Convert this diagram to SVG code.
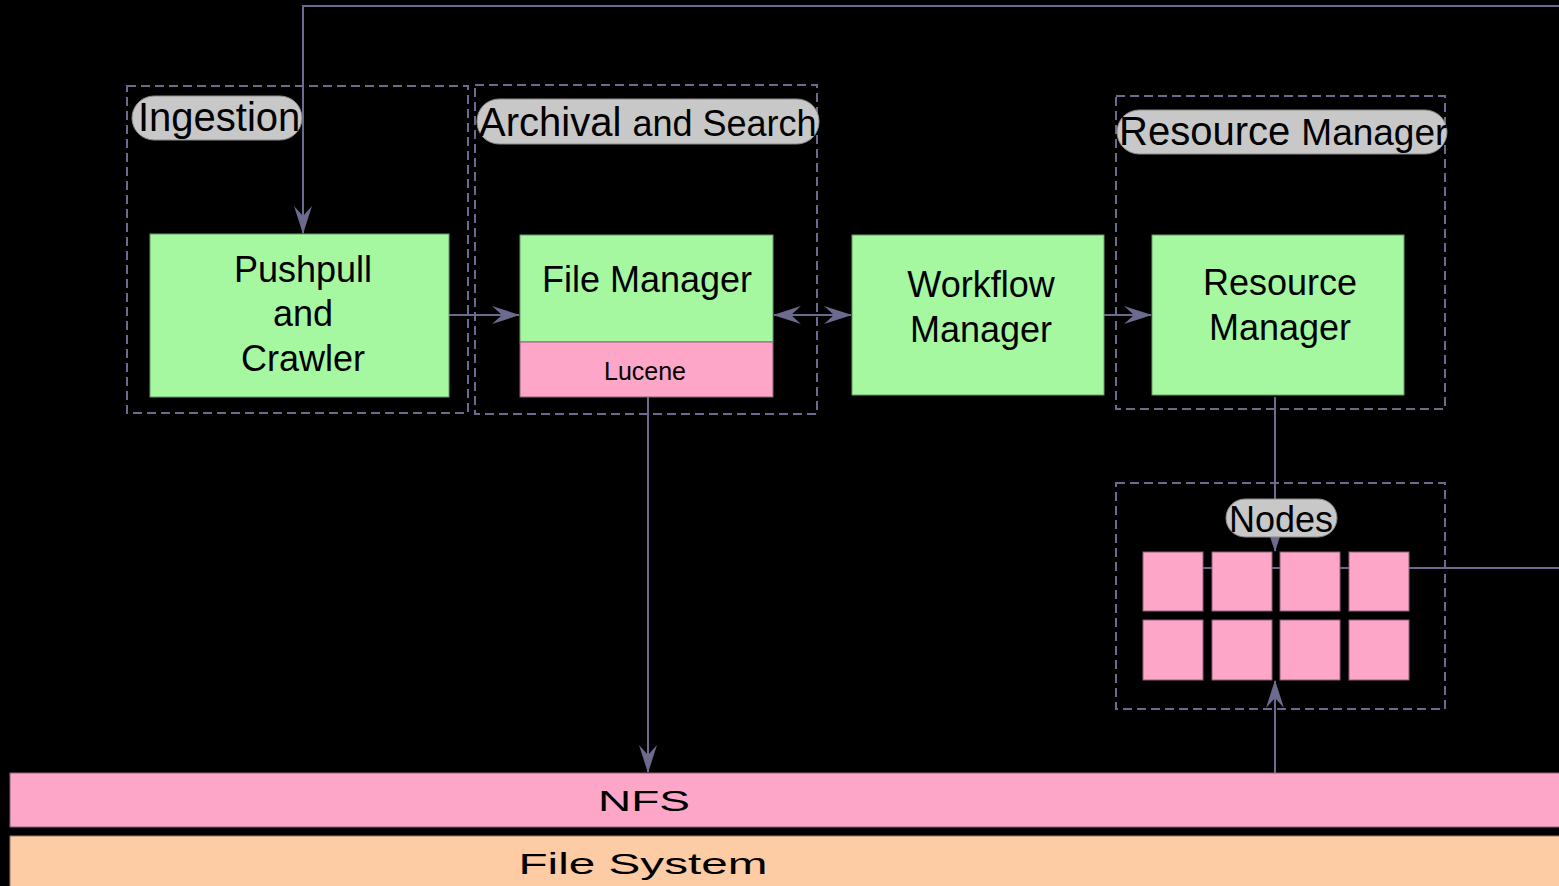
<svg xmlns="http://www.w3.org/2000/svg" width="1559" height="886" viewBox="0 0 1559 886">
<style>
.grp{fill:none;stroke:#6c6b8f;stroke-width:2;stroke-dasharray:9,5}
.pill{fill:#c8c8c8;stroke:#8a8a8a;stroke-width:1}
.green{fill:#a5f8a0;stroke:#6a9a66;stroke-width:1}
.pink{fill:#fea6c8;stroke:#8a6078;stroke-width:1}
.peach{fill:#fdcba4;stroke:#9a7a60;stroke-width:1}
.conn{fill:none;stroke:#6c6b8f;stroke-width:2}
text{font-family:"Liberation Sans",Arial,sans-serif;fill:#000;text-anchor:middle}
.lbl{font-size:40px;text-anchor:start}
.node{font-size:36px}
</style>
<defs>
<marker id="ah" viewBox="0 0 28 18" refX="27" refY="9" markerWidth="28" markerHeight="18" markerUnits="userSpaceOnUse" orient="auto-start-reverse">
<path d="M0,0 L28,9 L0,18 L10,9 Z" fill="#6c6b8f"/>
</marker>
</defs>
<rect width="1559" height="886" fill="#000"/>

<g id="connectors">
<polyline class="conn" points="1559,6 303,6 303,233" marker-end="url(#ah)"/>
<line class="conn" x1="449" y1="315" x2="519" y2="315" marker-end="url(#ah)"/>
<line class="conn" x1="774" y1="315" x2="851" y2="315" marker-start="url(#ah)" marker-end="url(#ah)"/>
<line class="conn" x1="1104" y1="315" x2="1151" y2="315" marker-end="url(#ah)"/>
<line class="conn" x1="648" y1="397" x2="648" y2="772" marker-end="url(#ah)"/>
<line class="conn" x1="1275" y1="397" x2="1275" y2="551" marker-end="url(#ah)"/>
<line class="conn" x1="1275" y1="773" x2="1275" y2="681" marker-end="url(#ah)"/>
<line class="conn" x1="1200" y1="568" x2="1559" y2="568"/>
</g>

<g id="ingestion">
<rect class="grp" x="127" y="86" width="341" height="327"/>
<rect class="pill" x="132" y="96" width="170" height="44" rx="22"/>
<text class="lbl" x="138" y="131">Ingestion</text>
</g>

<g id="archival">
<rect class="grp" x="475" y="85" width="342" height="329"/>
<rect class="pill" x="477" y="99" width="342" height="45" rx="22"/>
<text class="lbl" x="479" y="136">Archival <tspan font-size="36">and Search</tspan></text>
</g>

<g id="resource-group">
<rect class="grp" x="1116" y="96" width="329" height="313"/>
<rect class="pill" x="1117" y="110" width="330" height="44" rx="22"/>
<text class="lbl" x="1119" y="145">Resource <tspan font-size="37">Manager</tspan></text>
</g>

<g id="pushpull">
<rect class="green" x="150" y="234" width="299" height="163"/>
<text class="node" x="303" y="282">Pushpull</text>
<text class="node" x="303" y="326">and</text>
<text class="node" x="303" y="371">Crawler</text>
</g>

<g id="filemanager">
<rect class="green" x="520" y="235" width="253" height="107"/>
<text class="node" x="647" y="292">File Manager</text>
<rect class="pink" x="520" y="342" width="253" height="55"/>
<text x="645" y="380" font-size="25">Lucene</text>
</g>

<g id="workflow">
<rect class="green" x="852" y="235" width="252" height="160"/>
<text class="node" x="981" y="297">Workflow</text>
<text class="node" x="981" y="342">Manager</text>
</g>

<g id="resourcemanager">
<rect class="green" x="1152" y="235" width="252" height="160"/>
<text class="node" x="1280" y="295">Resource</text>
<text class="node" x="1280" y="340">Manager</text>
</g>

<g id="nodes">
<rect class="grp" x="1116" y="483" width="329" height="226"/>
<rect class="pink" x="1143" y="552" width="60" height="59"/>
<rect class="pink" x="1212" y="552" width="60" height="59"/>
<rect class="pink" x="1280" y="552" width="60" height="59"/>
<rect class="pink" x="1349" y="552" width="60" height="59"/>
<rect class="pink" x="1143" y="620" width="60" height="60"/>
<rect class="pink" x="1212" y="620" width="60" height="60"/>
<rect class="pink" x="1280" y="620" width="60" height="60"/>
<rect class="pink" x="1349" y="620" width="60" height="60"/>
<rect class="pill" x="1226" y="499" width="111" height="38" rx="19"/>
<text x="1281" y="532" font-size="36">Nodes</text>
</g>

<g id="nfs">
<rect class="pink" x="10" y="773" width="1560" height="54"/>
<text x="644" y="811" font-size="29" textLength="92" lengthAdjust="spacingAndGlyphs">NFS</text>
</g>

<g id="filesystem">
<rect class="peach" x="10" y="836" width="1560" height="60"/>
<text x="643" y="874" font-size="29" textLength="249" lengthAdjust="spacingAndGlyphs">File System</text>
</g>
</svg>
